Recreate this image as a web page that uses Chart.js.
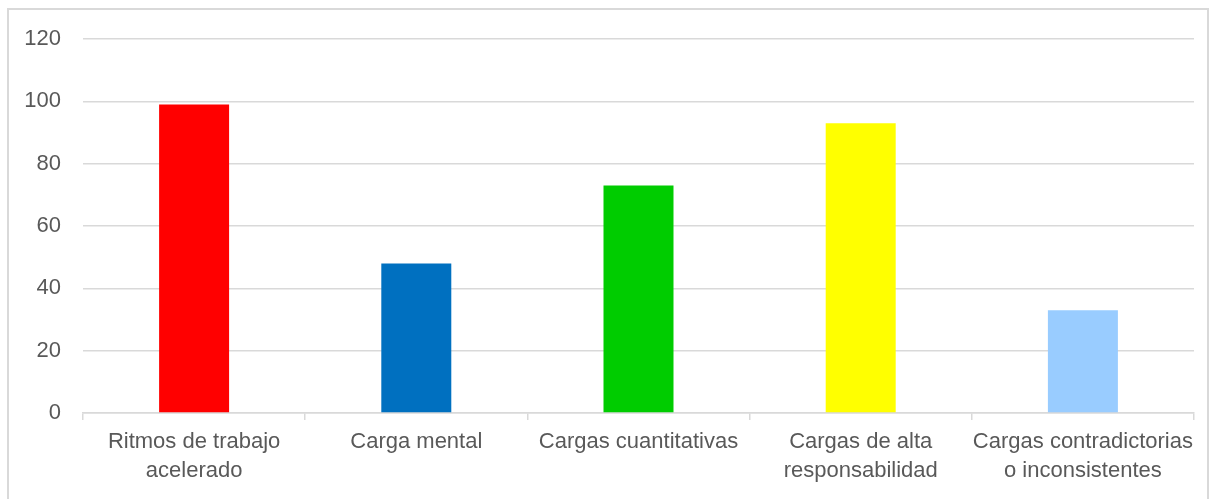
<!DOCTYPE html>
<html><head><meta charset="utf-8">
<script src="https://cdn.jsdelivr.net/npm/chart.js@4"></script>
<style>
html,body{margin:0;padding:0;background:#fff;overflow:hidden;}
#frame{position:absolute;left:7px;top:8px;width:1202px;height:500px;border:2px solid #d9d9d9;box-sizing:border-box;}
#wrap{position:absolute;left:0;top:0;width:1218px;height:499px;}
</style></head>
<body>
<div id="frame"></div>
<div id="wrap"><canvas id="c" width="1218" height="499"></canvas></div>
<script>
const categories = [["Ritmos de trabajo","acelerado"],"Carga mental","Cargas cuantitativas",["Cargas de alta","responsabilidad"],["Cargas contradictorias","o inconsistentes"]];
const values = [99, 48, 73, 93, 33];
const barColors = ["#FF0000","#0070C0","#00CC00","#FFFF00","#99CCFF"];
const yTicks = [0,20,40,60,80,100,120];

const font = {family:"'Liberation Sans', Arial, sans-serif", size:22, lineHeight:1.3};
new Chart(document.getElementById('c'), {
  type:'bar',
  data:{labels:categories, datasets:[{data:values, backgroundColor:barColors, barPercentage:0.315, categoryPercentage:1}]},
  options:{
    responsive:false, animation:false,
    layout:{padding:{top:39,right:24,left:0,bottom:0}},
    plugins:{legend:{display:false}, tooltip:{enabled:false}},
    scales:{
      x:{
        grid:{offset:true, drawOnChartArea:false, drawTicks:true, tickLength:7, color:'#d9d9d9', lineWidth:1.5},
        border:{color:'#d9d9d9', width:1.5},
        ticks:{color:'#595959', font:font, padding:8, maxRotation:0, autoSkip:false},
        afterFit(s){ s.height = 86; }
      },
      y:{
        min:0, max:120,
        afterBuildTicks(s){ s.ticks = yTicks.map(v=>({value:v})); },
        grid:{color:'#d9d9d9', lineWidth:1.5, drawTicks:false},
        border:{display:false},
        ticks:{color:'#595959', font:{family:font.family, size:22}, padding:22},
        afterFit(s){ s.width = 83; }
      }
    }
  }
});
</script>
</body></html>
